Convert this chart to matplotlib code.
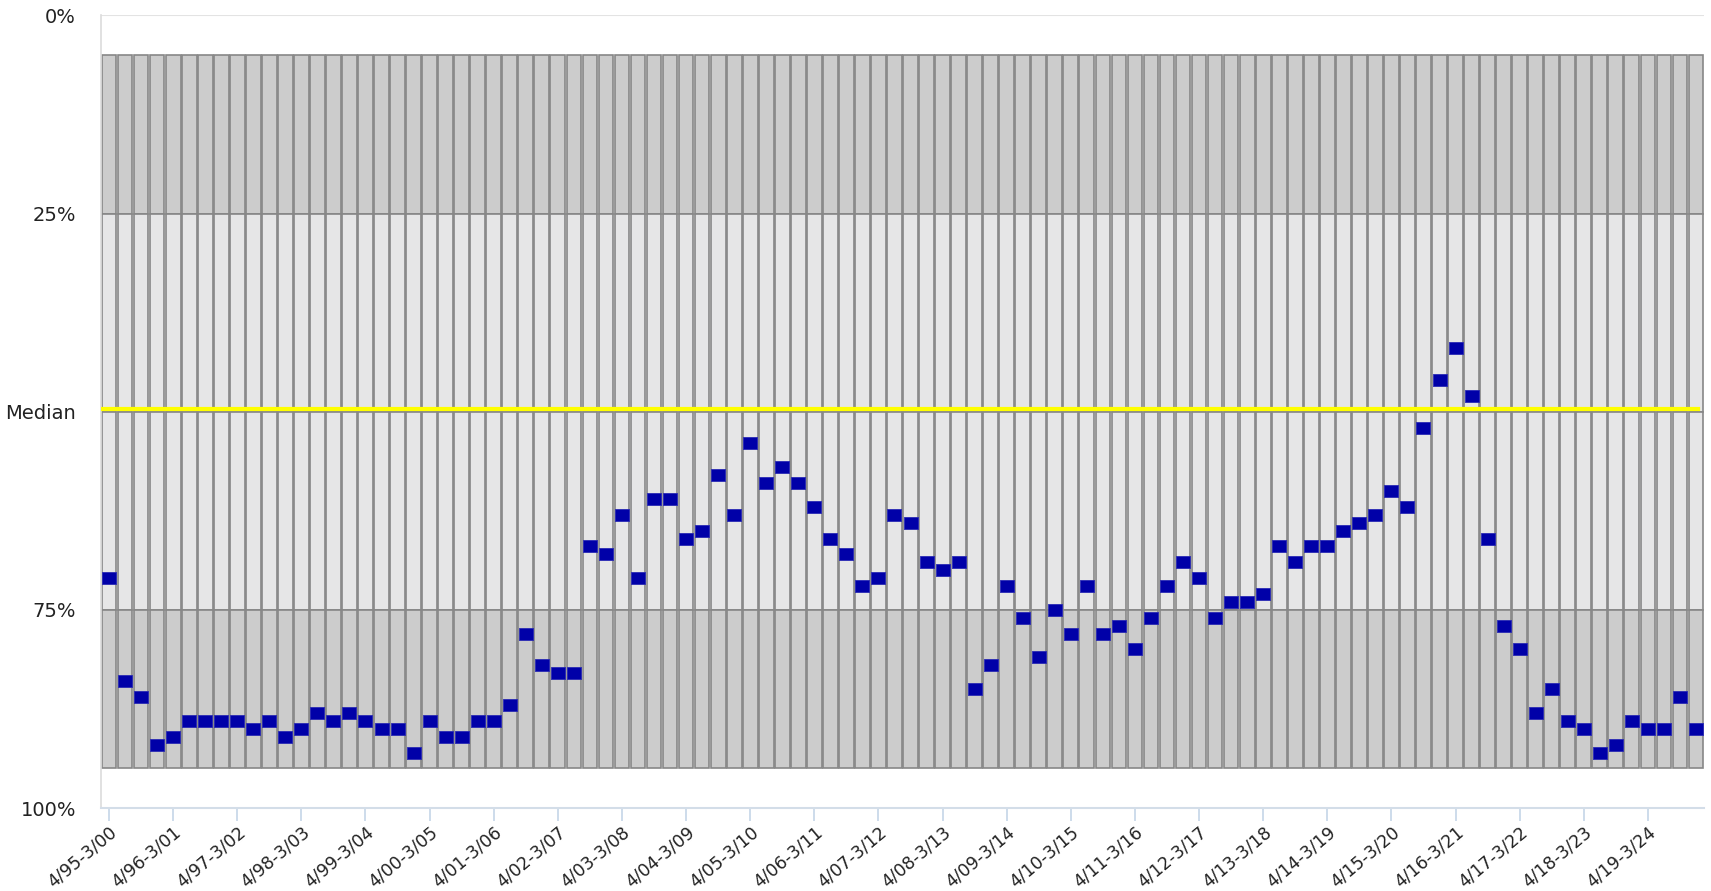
import numpy as np
import matplotlib.pyplot as plt

# rolling 5-year periods, quarterly steps (percentile rank, 0% = top)
etykiety = ['4/95-3/00', '4/96-3/01', '4/97-3/02', '4/98-3/03', '4/99-3/04',
            '4/00-3/05', '4/01-3/06', '4/02-3/07', '4/03-3/08', '4/04-3/09',
            '4/05-3/10', '4/06-3/11', '4/07-3/12', '4/08-3/13', '4/09-3/14',
            '4/10-3/15', '4/11-3/16', '4/12-3/17', '4/13-3/18', '4/14-3/19',
            '4/15-3/20', '4/16-3/21', '4/17-3/22', '4/18-3/23', '4/19-3/24']

ranking = [71, 84, 86, 92, 91, 89, 89, 89, 89, 90,
           89, 91, 90, 88, 89, 88, 89, 90, 90, 93,
           89, 91, 91, 89, 89, 87, 78, 82, 83, 83,
           67, 68, 63, 71, 61, 61, 66, 65, 58, 63,
           54, 59, 57, 59, 62, 66, 68, 72, 71, 63,
           64, 69, 70, 69, 85, 82, 72, 76, 81, 75,
           78, 72, 78, 77, 80, 76, 72, 69, 71, 76,
           74, 74, 73, 67, 69, 67, 67, 65, 64, 63,
           60, 62, 52, 46, 42, 48, 66, 77, 80, 88,
           85, 89, 90, 93, 92, 89, 90, 90, 86, 90]

# percentile bands drawn behind the points
pasma_od = [5, 25, 50, 75]
pasma_do = [25, 50, 75, 95]
pasma_kolor = ['#cccccc', '#e6e6e7', '#e6e6e7', '#cccccc']

mediana = 49.7
ytyki = [0, 25, 50, 75, 100]
yetykiety = ['0%', '25%', 'Median', '75%', '100%']

n = len(ranking)
x = np.arange(n)

fig = plt.figure(figsize=(17.11, 8.91), dpi=100)
ax = fig.add_axes([101/1711, 1 - 808/891, (1704 - 101)/1711, (808 - 15.4)/891])

for od, do, kol in zip(pasma_od, pasma_do, pasma_kolor):
    ax.bar(x, [do - od]*n, bottom=od, width=0.92, color=kol,
           edgecolor='#878787', linewidth=1.2, zorder=2)

ax.axhline(0, color='#e3e3e3', linewidth=1.5, zorder=1)
ax.plot([-0.5, n - 0.9], [mediana, mediana], color='#ffff00', linewidth=3, zorder=3)

znacznik = [(-7, -6), (7, -6), (7, 6), (-7, 6), (-7, -6)]
ax.plot(x, ranking, linestyle='none', marker=znacznik, markersize=10,
        color='#0000a8', markeredgecolor='#2a2ab4', markeredgewidth=0.6, zorder=4)

ax.set_xlim(-0.5, n - 0.5)
ax.set_ylim(100, 0)

ax.set_yticks(ytyki)
ax.set_yticklabels(yetykiety, fontsize=14, color='#222222')
ax.tick_params(axis='y', length=0, pad=18)

ax.set_xticks(x[::4])
ax.set_xticklabels(etykiety, fontsize=12.5, color='#222222', rotation=40,
                   ha='right', rotation_mode='anchor')
ax.tick_params(axis='x', length=9, width=1.2, color='#c5d5e8', pad=2)

ax.spines['right'].set_visible(False)
ax.spines['top'].set_visible(False)
ax.spines['left'].set_color('#dcdcdc')
ax.spines['left'].set_linewidth(1.2)
ax.spines['bottom'].set_color('#d3dde8')
ax.spines['bottom'].set_linewidth(1.5)

plt.savefig('out.png', dpi=100)
